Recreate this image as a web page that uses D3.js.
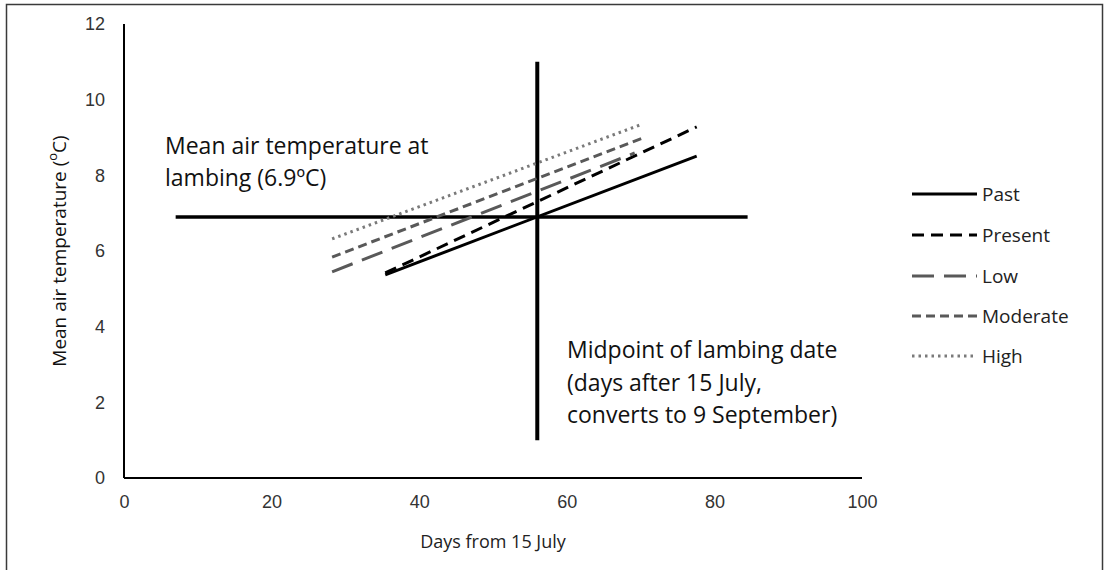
<!DOCTYPE html>
<html lang="en">
<head>
    <meta charset="UTF-8">
    <title>Mean air temperature at lambing</title>
    <script src="https://d3js.org/d3.v7.min.js"></script>
    <style>
        body {
            margin: 0;
            background-color: #fff;
            font-family: "Open Sans", "Noto Sans", sans-serif;
        }
        .axis text {
            font-size: 18px;
            fill: #333;
        }
        .axis path {
            stroke: #000;
            stroke-width: 2px;
        }
        .note {
            font-size: 23px;
            fill: #111;
        }
        .legend text {
            font-size: 19px;
            fill: #222;
        }
    </style>
</head>
<body>
    <svg id="chart" width="1107" height="570"></svg>
    <script>
        // Series: each is a straight line from start to end
        const seriesNames = ["Past", "Present", "Low", "Moderate", "High"];
        const startDay = [35.4, 35.4, 28.2, 28.2, 28.2];
        const startTemp = [5.37, 5.42, 5.45, 5.84, 6.32];
        const endDay = [77.6, 77.6, 69.2, 70.6, 69.9];
        const endTemp = [8.51, 9.28, 8.59, 9.01, 9.33];

        // Reference lines
        const lambingTemp = 6.9;
        const tempLineDays = [7, 84.5];
        const midpointDay = 56;
        const midLineTemps = [1, 11];

        // Tick values
        const xTicks = [0, 20, 40, 60, 80, 100];
        const yTicks = [0, 2, 4, 6, 8, 10, 12];

        const lineStyles = {
            Past:     { color: "#000",    dash: null,    width: 3 },
            Present:  { color: "#000",    dash: "12,7",  width: 3 },
            Low:      { color: "#595959", dash: "22,10", width: 3 },
            Moderate: { color: "#595959", dash: "9,5",   width: 3 },
            High:     { color: "#7a7a7a", dash: "2.5,4", width: 3 }
        };

        const svg = d3.select("#chart");

        // outer frame
        svg.append("rect")
            .attr("x", 6.5).attr("y", 4.5)
            .attr("width", 1096).attr("height", 575)
            .attr("fill", "none")
            .attr("stroke", "#3a3a3a")
            .attr("stroke-width", 1.5);

        const x = d3.scaleLinear().domain([0, 100]).range([124, 862]);
        const y = d3.scaleLinear().domain([0, 12]).range([478, 24]);

        svg.append("g")
            .attr("class", "axis")
            .attr("transform", "translate(0,478)")
            .call(d3.axisBottom(x).tickValues(xTicks).tickSize(0).tickPadding(17))
            .call(g => g.select(".domain").attr("d", `M${x(0)},0H${x(100)}`));

        svg.append("g")
            .attr("class", "axis")
            .attr("transform", "translate(124,0)")
            .call(d3.axisLeft(y).tickValues(yTicks).tickSize(0).tickPadding(19))
            .call(g => g.select(".domain").attr("d", `M0,${y(0)}V${y(12)}`));

        svg.selectAll(".axis text").attr("font-family", null);

        // axis titles
        svg.append("text")
            .attr("x", (x(0) + x(100)) / 2)
            .attr("y", 548)
            .attr("text-anchor", "middle")
            .attr("font-size", 18)
            .attr("fill", "#222")
            .text("Days from 15 July");

        const yTitle = svg.append("text")
            .attr("transform", `translate(66,${y(6)}) rotate(-90)`)
            .attr("text-anchor", "middle")
            .attr("font-size", 19)
            .attr("fill", "#111");
        yTitle.append("tspan").text("Mean air temperature (");
        yTitle.append("tspan").attr("font-size", 13).attr("baseline-shift", "super").text("o");
        yTitle.append("tspan").text("C)");

        // reference lines
        svg.append("line")
            .attr("x1", x(tempLineDays[0])).attr("x2", x(tempLineDays[1]))
            .attr("y1", y(lambingTemp)).attr("y2", y(lambingTemp))
            .attr("stroke", "#000").attr("stroke-width", 3.5);

        svg.append("line")
            .attr("x1", x(midpointDay)).attr("x2", x(midpointDay))
            .attr("y1", y(midLineTemps[0])).attr("y2", y(midLineTemps[1]))
            .attr("stroke", "#000").attr("stroke-width", 4);

        // series lines
        const lines = seriesNames.map((name, i) => ({
            name,
            pts: [[startDay[i], startTemp[i]], [endDay[i], endTemp[i]]]
        }));
        const lineGen = d3.line().x(d => x(d[0])).y(d => y(d[1]));

        svg.selectAll(".series")
            .data(lines)
            .enter()
            .append("path")
            .attr("class", "series")
            .attr("d", d => lineGen(d.pts))
            .attr("fill", "none")
            .attr("stroke", d => lineStyles[d.name].color)
            .attr("stroke-width", d => lineStyles[d.name].width)
            .attr("stroke-dasharray", d => lineStyles[d.name].dash);

        // annotations
        const note1 = svg.append("text").attr("class", "note").attr("x", 165).attr("y", 154);
        note1.append("tspan").attr("x", 165).text("Mean air temperature at");
        note1.append("tspan").attr("x", 165).attr("dy", 32).text("lambing (6.9ºC)");

        const note2 = svg.append("text").attr("class", "note").attr("x", 567).attr("y", 358);
        ["Midpoint of lambing date", "(days after 15 July,", "converts to 9 September)"]
            .forEach((t, i) => note2.append("tspan").attr("x", 567).attr("dy", i ? 32.5 : 0).text(t));

        // legend
        const legendY = [194, 235, 276, 316, 356];
        const legend = svg.append("g").attr("class", "legend");
        const items = legend.selectAll("g")
            .data(seriesNames)
            .enter()
            .append("g")
            .attr("transform", (d, i) => `translate(912,${legendY[i]})`);
        items.append("line")
            .attr("x1", 0).attr("x2", 65)
            .attr("stroke", d => lineStyles[d].color)
            .attr("stroke-width", d => lineStyles[d].width)
            .attr("stroke-dasharray", d => lineStyles[d].dash);
        items.append("text")
            .attr("x", 70)
            .attr("dy", "0.35em")
            .text(d => d);
    </script>
</body>
</html>
